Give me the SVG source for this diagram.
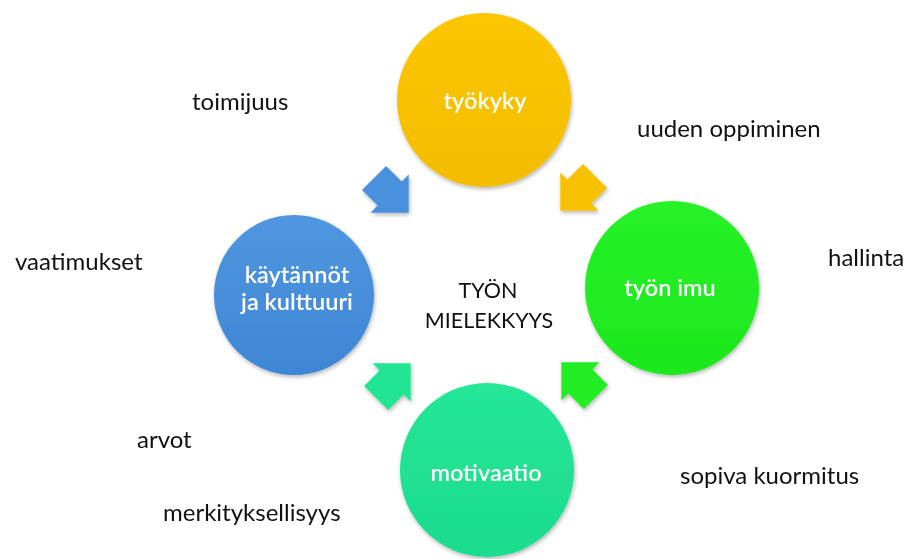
<svg xmlns="http://www.w3.org/2000/svg" width="907" height="559" viewBox="0 0 907 559">
<style>
.lbl{font-family:Lato,"Open Sans","Liberation Sans",sans-serif;font-size:24px;fill:#111}
.ctr{font-family:Lato,"Open Sans","Liberation Sans",sans-serif;font-size:21.5px;fill:#111;text-anchor:middle}
.ntx{font-family:Lato,"Open Sans","Liberation Sans",sans-serif;font-size:23.5px;fill:#fff;text-anchor:middle;font-weight:600}
</style>
<defs>
<filter id="sh" x="-20%" y="-20%" width="140%" height="140%">
<feGaussianBlur in="SourceAlpha" stdDeviation="2"/>
<feOffset dx="1" dy="2" result="b"/>
<feComponentTransfer><feFuncA type="linear" slope="0.3"/></feComponentTransfer>
<feMerge><feMergeNode/><feMergeNode in="SourceGraphic"/></feMerge>
</filter>
<linearGradient id="gy" x1="0" y1="0" x2="0" y2="1"><stop offset="0" stop-color="#fcc600"/><stop offset="1" stop-color="#f3bd00"/></linearGradient>
<linearGradient id="gb" x1="0" y1="0" x2="0" y2="1"><stop offset="0" stop-color="#5097e0"/><stop offset="1" stop-color="#3e86d5"/></linearGradient>
<linearGradient id="gg" x1="0" y1="0" x2="0" y2="1"><stop offset="0" stop-color="#26f226"/><stop offset="1" stop-color="#1de81d"/></linearGradient>
<linearGradient id="gt" x1="0" y1="0" x2="0" y2="1"><stop offset="0" stop-color="#25e698"/><stop offset="1" stop-color="#1cdc8d"/></linearGradient>
<polygon id="arr" points="-24,-17 -2,-17 -2,-27 25,0 -2,27 -2,17 -24,17"/>
</defs>
<rect width="907" height="559" fill="#fff"/>

<g id="connectors" filter="url(#sh)">
<use href="#arr" fill="#4a91dc" transform="translate(391,195) rotate(45)"/>
<use href="#arr" fill="#f7c100" transform="translate(578,193) rotate(135)"/>
<use href="#arr" fill="#22e594" transform="translate(393,381) rotate(-45)"/>
<use href="#arr" fill="#22ec22" transform="translate(579,380) rotate(-135)"/>
</g>

<g id="node-tyokyky" filter="url(#sh)">
<circle cx="484" cy="100" r="87" fill="url(#gy)"/>
<text class="ntx" x="485" y="109">työkyky</text>
</g>
<g id="node-kaytannot" filter="url(#sh)">
<circle cx="294" cy="295" r="80" fill="url(#gb)"/>
<text class="ntx" x="297" y="283">käytännöt</text>
<text class="ntx" x="297" y="310">ja kulttuuri</text>
</g>
<g id="node-tyonimu" filter="url(#sh)">
<circle cx="672" cy="288" r="87" fill="url(#gg)"/>
<text class="ntx" x="670" y="296">työn imu</text>
</g>
<g id="node-motivaatio" filter="url(#sh)">
<circle cx="487" cy="470" r="87" fill="url(#gt)"/>
<text class="ntx" x="486" y="481">motivaatio</text>
</g>
<g id="center">
<text class="ctr" x="488" y="298">TYÖN</text>
<text class="ctr" x="489" y="328">MIELEKKYYS</text>
</g>
<g id="labels">
<text class="lbl" x="192" y="110">toimijuus</text>
<text class="lbl" x="15" y="270">vaatimukset</text>
<text class="lbl" x="637" y="137">uuden oppiminen</text>
<text class="lbl" x="828" y="266">hallinta</text>
<text class="lbl" x="137" y="448">arvot</text>
<text class="lbl" x="163" y="521">merkityksellisyys</text>
<text class="lbl" x="680" y="484">sopiva kuormitus</text>
</g>
</svg>
